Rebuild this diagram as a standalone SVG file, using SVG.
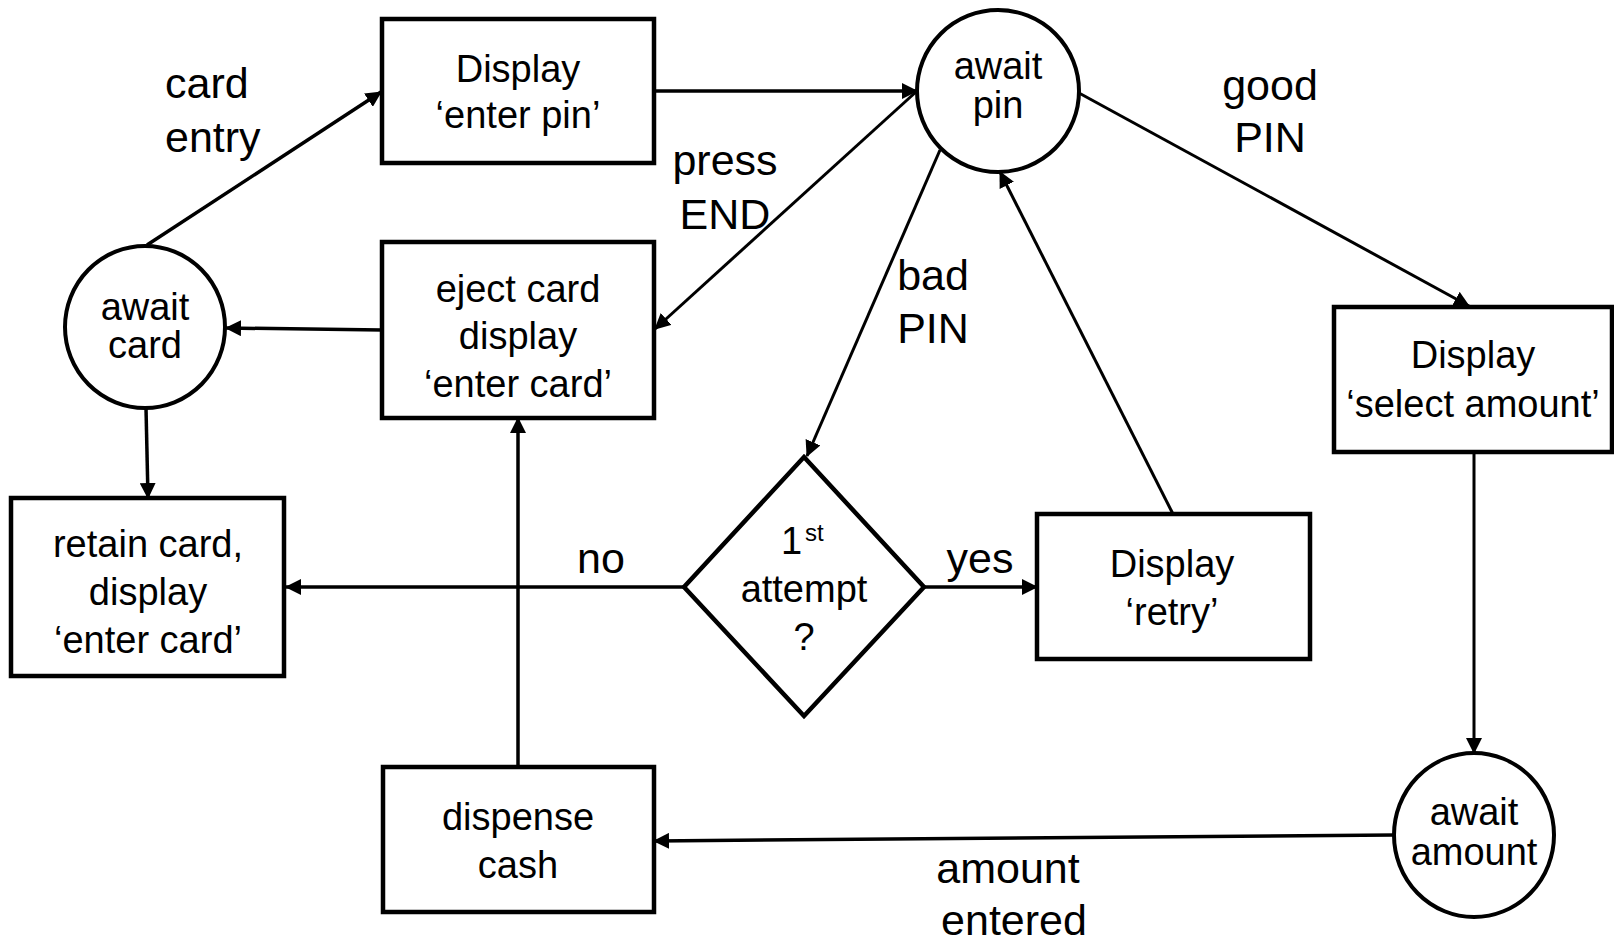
<svg xmlns="http://www.w3.org/2000/svg" width="1614" height="941" viewBox="0 0 1614 941">
<style>
.box{fill:#fff;stroke:#000;stroke-width:4.5}
.circ{fill:#fff;stroke:#000;stroke-width:4}
.t{font-family:"Liberation Sans",Arial,sans-serif;font-size:38px;fill:#000;text-anchor:middle}
.ts{font-family:"Liberation Sans",Arial,sans-serif;font-size:38px;fill:#000;text-anchor:start}
.lbl{font-family:"Liberation Sans",Arial,sans-serif;font-size:43px;fill:#000}
.c{fill:none;stroke:#000;stroke-width:3.5}
.thin{stroke-width:3}
</style>
<defs>
<marker id="ah" markerUnits="userSpaceOnUse" markerWidth="16" markerHeight="16" viewBox="0 0 16 16" refX="15" refY="8" orient="auto">
<path d="M0,0 L16,8 L0,16 z" fill="#000"/>
</marker>
</defs>
<rect width="1614" height="941" fill="#fff"/>
<g id="connectors">
<path class="c" d="M147,245 L381,92" marker-end="url(#ah)"/>
<path class="c" d="M654,91 L917,91" marker-end="url(#ah)"/>
<path class="c thin" d="M917,91 L655,329" marker-end="url(#ah)"/>
<path class="c" d="M382,330 L226,328" marker-end="url(#ah)"/>
<path class="c" d="M146,408 L148,498" marker-end="url(#ah)"/>
<path class="c thin" d="M940,150 L807,456" marker-end="url(#ah)"/>
<path class="c thin" d="M1173,514 L1000,172" marker-end="url(#ah)"/>
<path class="c thin" d="M1079,93 L1469,306" marker-end="url(#ah)"/>
<path class="c thin" d="M1474,452 L1474,753" marker-end="url(#ah)"/>
<path class="c" d="M684,587 L286,587" marker-end="url(#ah)"/>
<path class="c" d="M924,587 L1037,587" marker-end="url(#ah)"/>
<path class="c" d="M1394,835 L654,841" marker-end="url(#ah)"/>
<path class="c" d="M518,767 L518,418" marker-end="url(#ah)"/>
</g>
<g id="labels">
<text class="lbl" x="165" y="98">card</text>
<text class="lbl" x="165" y="152">entry</text>
<text class="lbl" x="725" y="175" text-anchor="middle">press</text>
<text class="lbl" x="725" y="229" text-anchor="middle">END</text>
<text class="lbl" x="1270" y="100" text-anchor="middle">good</text>
<text class="lbl" x="1270" y="152" text-anchor="middle">PIN</text>
<text class="lbl" x="933" y="290" text-anchor="middle">bad</text>
<text class="lbl" x="933" y="343" text-anchor="middle">PIN</text>
<text class="lbl" x="601" y="573" text-anchor="middle">no</text>
<text class="lbl" x="980" y="573" text-anchor="middle">yes</text>
<text class="lbl" x="1008" y="883" text-anchor="middle">amount</text>
<text class="lbl" x="1014" y="935" text-anchor="middle">entered</text>
</g>
<g id="display-enter-pin">
<rect class="box" x="382" y="19" width="272" height="144"/>
<text class="t" x="518" y="82">Display</text>
<text class="t" x="518" y="128">‘enter pin’</text>
</g>
<g id="await-pin">
<ellipse class="circ" cx="998" cy="91" rx="81" ry="81"/>
<text class="t" x="998" y="79">await</text>
<text class="t" x="998" y="118">pin</text>
</g>
<g id="await-card">
<ellipse class="circ" cx="145" cy="327" rx="80" ry="81"/>
<text class="t" x="145" y="320">await</text>
<text class="t" x="145" y="358">card</text>
</g>
<g id="eject-card">
<rect class="box" x="382" y="242" width="272" height="176"/>
<text class="t" x="518" y="302">eject card</text>
<text class="t" x="518" y="349">display</text>
<text class="t" x="518" y="397">‘enter card’</text>
</g>
<g id="display-select-amount">
<rect class="box" x="1334" y="307" width="278" height="145"/>
<text class="t" x="1473" y="368">Display</text>
<text class="t" x="1473" y="417">‘select amount’</text>
</g>
<g id="first-attempt">
<polygon class="box" points="804,457 924,587 804,716 684,587"/>
<text class="ts" x="781" y="554">1<tspan x="805" y="541" font-size="24">st</tspan></text>
<text class="t" x="804" y="602">attempt</text>
<text class="t" x="804" y="650">?</text>
</g>
<g id="display-retry">
<rect class="box" x="1037" y="514" width="273" height="145"/>
<text class="t" x="1172" y="577">Display</text>
<text class="t" x="1172" y="625">‘retry’</text>
</g>
<g id="retain-card">
<rect class="box" x="11" y="498" width="273" height="178"/>
<text class="t" x="148" y="557">retain card,</text>
<text class="t" x="148" y="605">display</text>
<text class="t" x="148" y="653">‘enter card’</text>
</g>
<g id="await-amount">
<ellipse class="circ" cx="1474" cy="835" rx="80" ry="82"/>
<text class="t" x="1474" y="825">await</text>
<text class="t" x="1474" y="865">amount</text>
</g>
<g id="dispense-cash">
<rect class="box" x="383" y="767" width="271" height="145"/>
<text class="t" x="518" y="830">dispense</text>
<text class="t" x="518" y="878">cash</text>
</g>
</svg>
